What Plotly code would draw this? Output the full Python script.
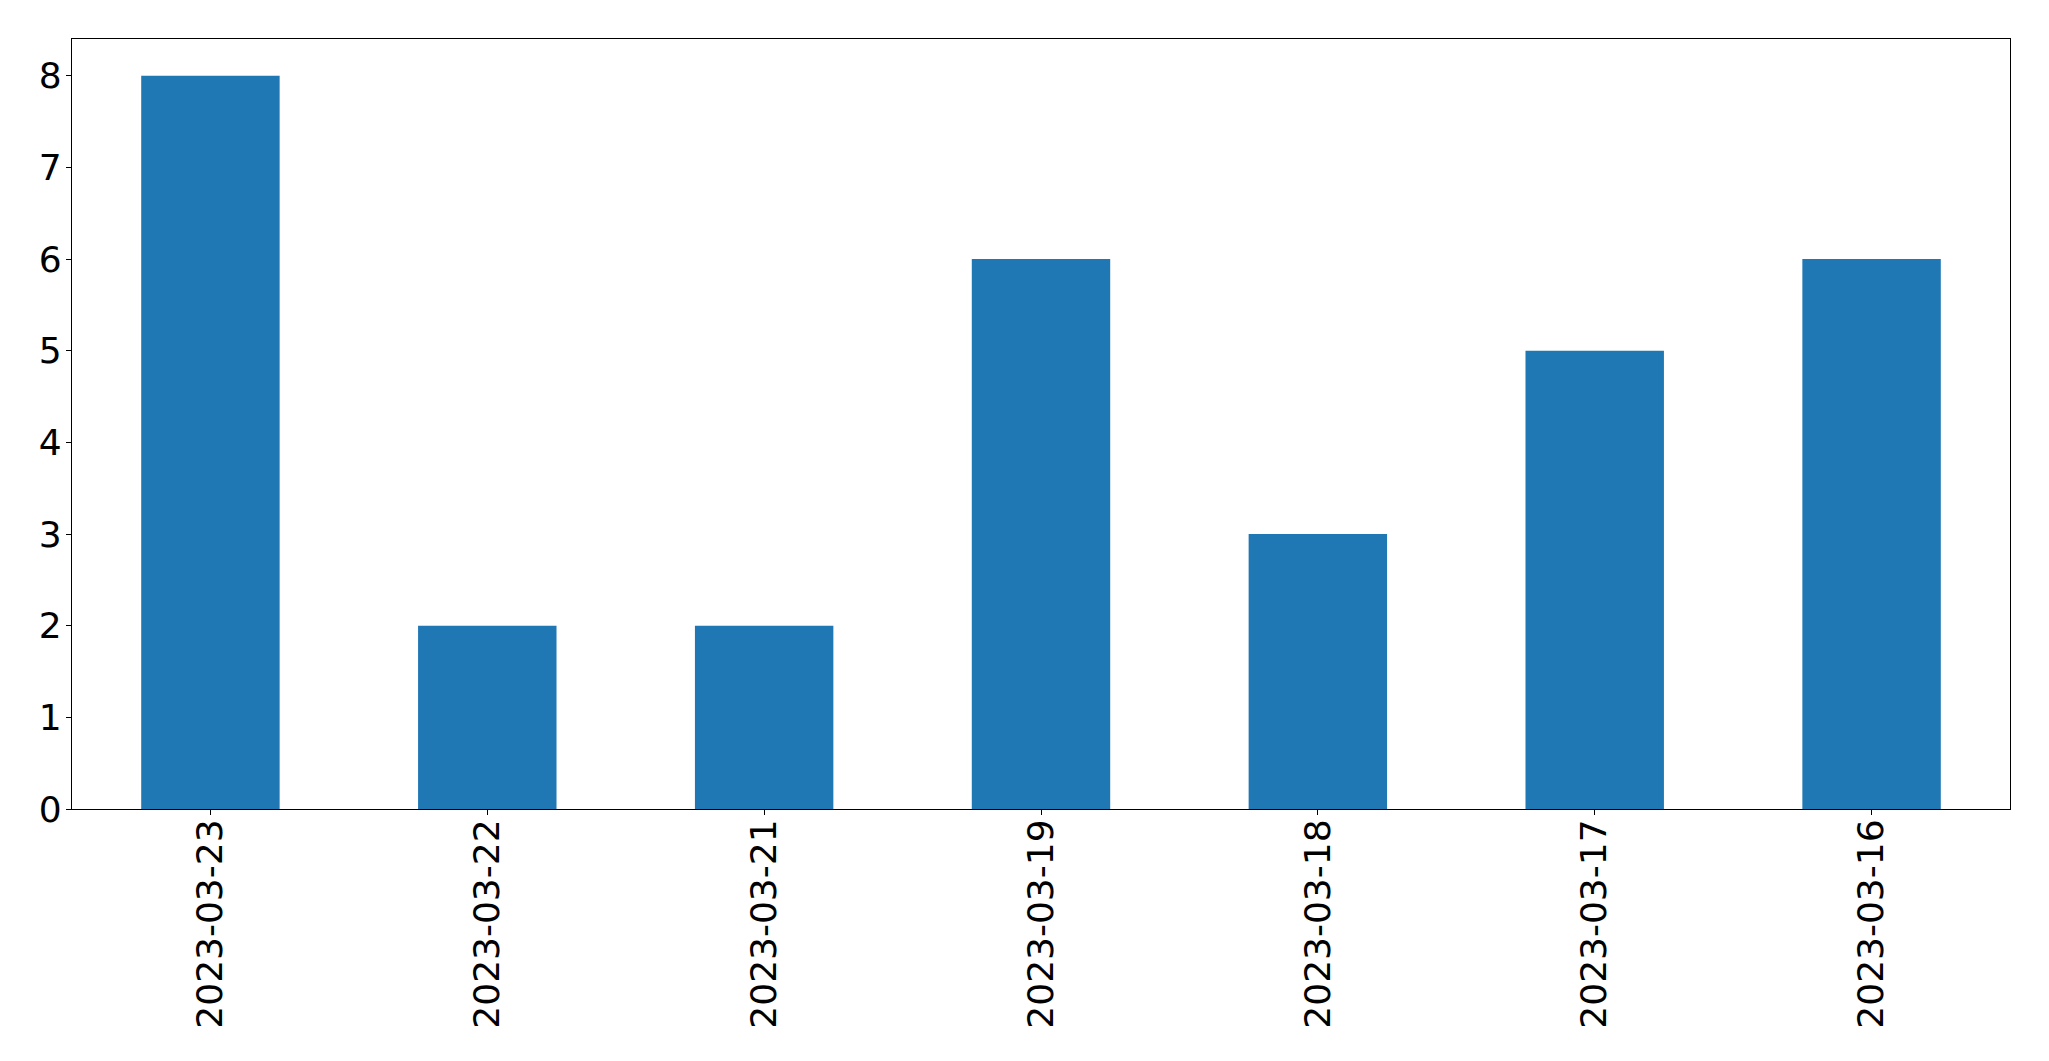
import plotly.graph_objects as go

dates = ["2023-03-23", "2023-03-22", "2023-03-21", "2023-03-19", "2023-03-18", "2023-03-17", "2023-03-16"]
counts = [8, 2, 2, 6, 3, 5, 6]
y_ticks = [0, 1, 2, 3, 4, 5, 6, 7, 8]

fig = go.Figure(go.Bar(x=dates, y=counts, width=0.5, marker=dict(color="#1f77b4", line=dict(width=0))))

font = dict(family="DejaVu Sans", size=36, color="black")
# page body has an 8px default margin, so offsets compensate for it
fig.update_layout(
    width=2049, height=1061,
    margin=dict(l=64, r=47, t=31, b=260, pad=0),
    paper_bgcolor="white", plot_bgcolor="white",
    showlegend=False,
    font=font,
)
fig.update_xaxes(
    type="category", range=[-0.5, 6.5], tickangle=-90, automargin=False,
    showline=True, linecolor="black", linewidth=1.1, mirror=True,
    ticks="outside", ticklen=5, tickwidth=1.1, tickcolor="black",
    showgrid=False, zeroline=False, tickfont=font, ticklabelstandoff=-10,
)
fig.update_yaxes(
    range=[0, 8.4], tickvals=y_ticks, automargin=False,
    showline=True, linecolor="black", linewidth=1.1, mirror=True,
    ticks="outside", ticklen=5, tickwidth=1.1, tickcolor="black",
    showgrid=False, zeroline=False, tickfont=font, ticklabelstandoff=-3,
)
fig.write_html("out.html")
